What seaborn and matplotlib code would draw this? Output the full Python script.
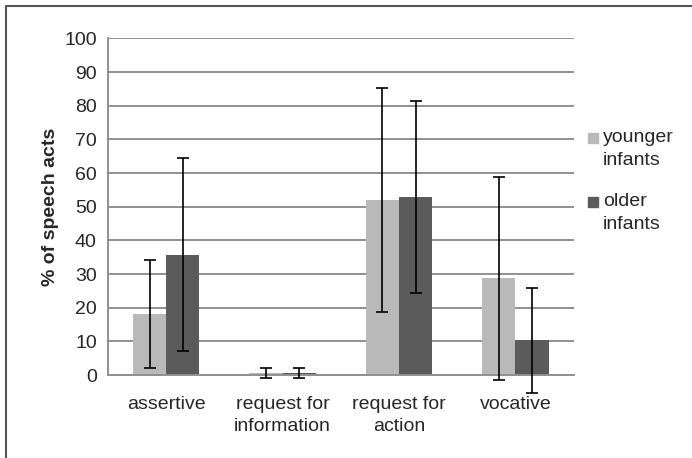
import matplotlib
matplotlib.use("Agg")
import matplotlib.pyplot as plt
from matplotlib.lines import Line2D
from matplotlib.patches import Rectangle
import seaborn as sns
import pandas as pd

# valores
categorias = ["assertive", "request for\ninformation", "request for\naction", "vocative"]
grupos = ["younger\ninfants", "older\ninfants"]
jovenes = [18.2, 0.6, 52.1, 28.7]
mayores = [35.8, 0.6, 52.9, 10.3]
sd_jovenes = [16.0, 1.5, 33.3, 30.2]
sd_mayores = [28.7, 1.4, 28.6, 15.6]
colores = ["#b9b9b9", "#5a5b5a"]

df = pd.DataFrame({
    "cat": categorias * 2,
    "grupo": [grupos[0]] * 4 + [grupos[1]] * 4,
    "pct": jovenes + mayores,
    "sd": sd_jovenes + sd_mayores,
})

sns.set_style("white")
plt.rcParams["font.family"] = ["Liberation Sans", "DejaVu Sans"]

fig = plt.figure(figsize=(6.92, 4.58), dpi=100)
ax = fig.add_axes([0.156, 0.181, 0.673, 0.735])

sns.barplot(data=df, x="cat", y="pct", hue="grupo", palette=colores,
            width=0.57, errorbar=None, ax=ax, zorder=2, legend=False,
            linewidth=0, saturation=1)

# barras de error sobre los centros de cada barra
for patch, (_, fila) in zip(ax.patches, df.iterrows()):
    xc = patch.get_x() + patch.get_width() / 2
    eb = ax.errorbar(xc, fila["pct"], yerr=fila["sd"], fmt="none", ecolor="black",
                     elinewidth=1.2, capsize=4, capthick=1.2, zorder=3)
    for art in eb.lines[1] + eb.lines[2]:
        art.set_clip_on(False)

ax.set_ylim(0, 100)
ax.set_xlim(-0.5, 3.5)
ax.set_yticks(range(0, 101, 10))
ax.yaxis.grid(True, color="#8f8f8f", linewidth=1.4, zorder=0)
ax.set_axisbelow(True)
for lado in ["top", "right"]:
    ax.spines[lado].set_visible(False)
ax.spines["left"].set_color("#8f8f8f")
ax.spines["bottom"].set_color("#8f8f8f")
ax.spines["left"].set_linewidth(1.4)
ax.spines["bottom"].set_linewidth(1.4)

ax.tick_params(axis="y", length=5, color="#8f8f8f", width=1.4, labelsize=14, pad=3)
ax.tick_params(axis="x", which="major", length=0, labelsize=14, pad=15)
ax.set_xticks([-0.5, 0.5, 1.5, 2.5, 3.5], minor=True)
ax.tick_params(axis="x", which="minor", length=5, color="#8f8f8f", width=1.4)
ax.set_xticklabels(categorias, linespacing=1.4)
ax.set_xlabel("")
ax.set_ylabel("% of speech acts", fontsize=14, fontweight="bold", labelpad=4)

# leyenda hecha a mano
y_cuadro = [138, 202]
for i, g in enumerate(grupos):
    yc = 1 - y_cuadro[i] / 458
    fig.add_artist(Rectangle((588 / 692, yc - 5 / 458), 10 / 692, 10 / 458,
                             color=colores[i], transform=fig.transFigure))
    fig.text(603 / 692, yc + 9 / 458, g, fontsize=14, ha="left", va="top",
             linespacing=1.45)

# marco exterior (solo izquierda y arriba)
fig.add_artist(Line2D([0.008, 0.008, 1.0], [0.0, 0.986, 0.986],
                      color="#555555", linewidth=1.5))

fig.savefig("out.png", dpi=100)
